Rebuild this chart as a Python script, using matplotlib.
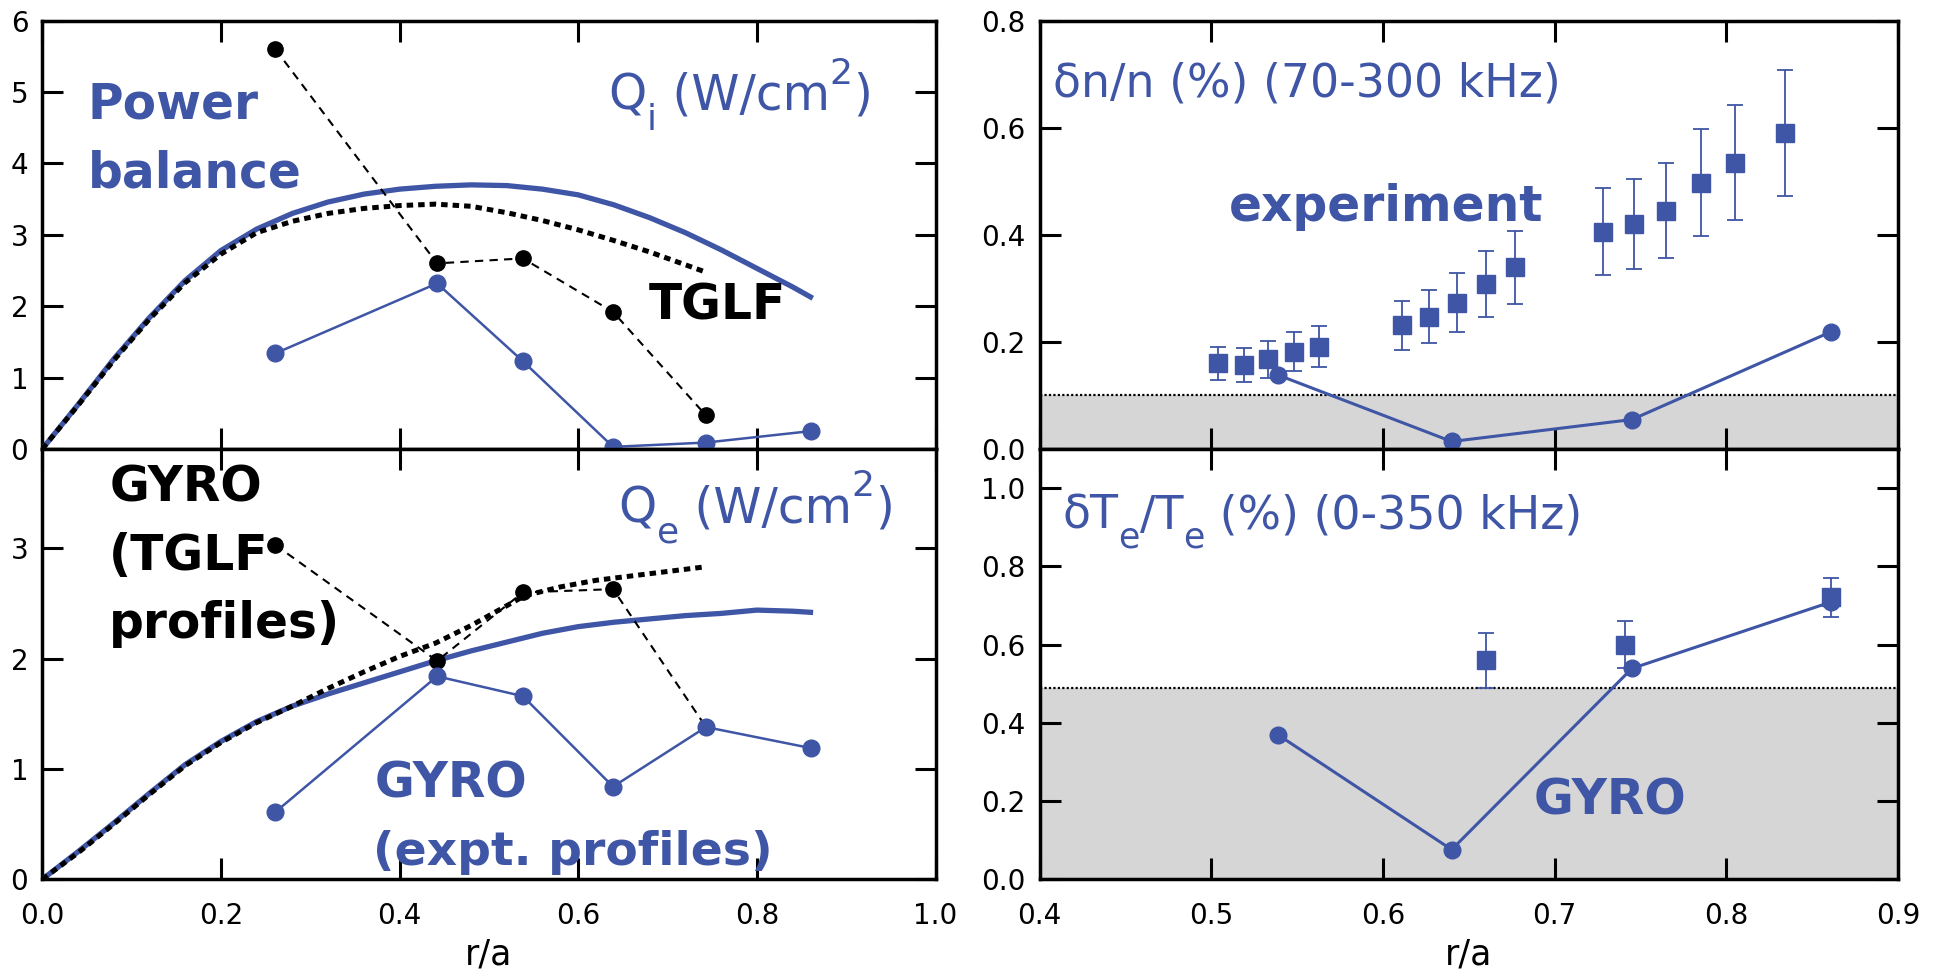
import numpy as np
import matplotlib
matplotlib.use('Agg')
import matplotlib.pyplot as plt

BLUE = '#3f55a5'
GRAY = '#d6d6d6'

# --- ion heat flux Qi (W/cm^2) vs r/a ---
qi_pb_r = [0.0, 0.04, 0.08, 0.12, 0.16, 0.20, 0.24, 0.28, 0.32, 0.36, 0.40, 0.44,
           0.48, 0.52, 0.56, 0.60, 0.64, 0.68, 0.72, 0.76, 0.80, 0.84, 0.86]
qi_pb = [0.0, 0.62, 1.26, 1.84, 2.36, 2.78, 3.08, 3.30, 3.46, 3.57, 3.64, 3.68,
         3.70, 3.69, 3.64, 3.56, 3.42, 3.24, 3.03, 2.79, 2.53, 2.27, 2.13]
qi_tglf_r = [0.0, 0.04, 0.08, 0.12, 0.16, 0.20, 0.24, 0.28, 0.32, 0.36, 0.40, 0.44,
             0.48, 0.52, 0.56, 0.60, 0.64, 0.68, 0.72, 0.74]
qi_tglf = [0.0, 0.61, 1.24, 1.82, 2.33, 2.73, 3.03, 3.19, 3.30, 3.37, 3.41, 3.43,
           3.40, 3.31, 3.20, 3.07, 2.92, 2.76, 2.58, 2.49]
qi_gyro_tglf_r = [0.261, 0.442, 0.538, 0.639, 0.743]
qi_gyro_tglf = [5.60, 2.60, 2.67, 1.92, 0.47]
qi_gyro_expt_r = [0.261, 0.442, 0.538, 0.639, 0.743, 0.86]
qi_gyro_expt = [1.34, 2.32, 1.23, 0.03, 0.09, 0.25]

# --- electron heat flux Qe (W/cm^2) vs r/a ---
qe_pb_r = [0.0, 0.04, 0.08, 0.12, 0.16, 0.20, 0.24, 0.28, 0.32, 0.36, 0.40, 0.44,
           0.48, 0.52, 0.56, 0.60, 0.64, 0.68, 0.72, 0.76, 0.80, 0.84, 0.86]
qe_pb = [0.0, 0.25, 0.51, 0.78, 1.04, 1.25, 1.43, 1.57, 1.68, 1.78, 1.88, 1.98,
         2.07, 2.15, 2.23, 2.29, 2.33, 2.36, 2.39, 2.41, 2.44, 2.43, 2.42]
qe_tglf_r = [0.0, 0.04, 0.08, 0.12, 0.16, 0.20, 0.24, 0.28, 0.32, 0.36, 0.40, 0.44,
             0.48, 0.52, 0.54, 0.58, 0.62, 0.66, 0.70, 0.74]
qe_tglf = [0.0, 0.24, 0.50, 0.77, 1.03, 1.24, 1.42, 1.57, 1.73, 1.88, 2.02, 2.14,
           2.30, 2.48, 2.57, 2.65, 2.71, 2.75, 2.79, 2.83]
qe_gyro_tglf_r = [0.261, 0.442, 0.538, 0.639, 0.743]
qe_gyro_tglf = [3.03, 1.98, 2.60, 2.63, 1.38]
qe_gyro_expt_r = [0.261, 0.442, 0.538, 0.639, 0.743, 0.86]
qe_gyro_expt = [0.61, 1.84, 1.66, 0.84, 1.38, 1.19]

# --- density fluctuations dn/n (%) ---
dn_r = [0.504, 0.519, 0.533, 0.548, 0.563, 0.611, 0.627, 0.643, 0.660, 0.677,
        0.728, 0.746, 0.765, 0.785, 0.805, 0.834]
dn_exp = [0.160, 0.157, 0.168, 0.182, 0.191, 0.232, 0.247, 0.272, 0.308, 0.340,
          0.406, 0.420, 0.445, 0.497, 0.535, 0.591]
dn_lo = [0.128, 0.126, 0.133, 0.145, 0.153, 0.185, 0.198, 0.218, 0.246, 0.271,
         0.325, 0.336, 0.356, 0.397, 0.428, 0.472]
dn_hi = [0.191, 0.189, 0.201, 0.218, 0.230, 0.277, 0.297, 0.328, 0.369, 0.408,
         0.488, 0.504, 0.534, 0.597, 0.642, 0.708]
dn_gyro_r = [0.539, 0.640, 0.745, 0.861]
dn_gyro = [0.138, 0.014, 0.055, 0.219]
dn_threshold = 0.1

# --- electron temperature fluctuations dTe/Te (%) ---
dt_r = [0.660, 0.741, 0.861]
dt_exp = [0.560, 0.599, 0.722]
dt_lo = [0.490, 0.540, 0.670]
dt_hi = [0.630, 0.660, 0.770]
dt_gyro_r = [0.539, 0.640, 0.745, 0.861]
dt_gyro = [0.369, 0.076, 0.539, 0.709]
dt_threshold = 0.49

plt.rcParams['font.family'] = ['DejaVu Sans']

fig = plt.figure(figsize=(19.37, 9.71), dpi=100)
ax_qi = fig.add_axes([0.0218, 0.5376, 0.4612, 0.4411])
ax_qe = fig.add_axes([0.0218, 0.0944, 0.4612, 0.4432])
ax_dn = fig.add_axes([0.5367, 0.5376, 0.4432, 0.4411])
ax_dt = fig.add_axes([0.5367, 0.0944, 0.4432, 0.4432])


def style_axes(ax):
    ax.tick_params(direction='in', length=15, width=2.2, top=True, right=True,
                   labelsize=20, color='black')
    ax.tick_params(axis='x', pad=16)
    ax.tick_params(axis='y', pad=10)
    for s in ax.spines.values():
        s.set_linewidth(2.5)


def flux_panel(ax, pb_r, pb, tg_r, tg, gt_r, gt, ge_r, ge):
    ax.plot(pb_r, pb, color=BLUE, lw=3.8, solid_joinstyle='round', zorder=3)
    ax.plot(tg_r, tg, color='black', lw=3.6, ls=(0, (1.3, 1.0)), zorder=4)
    ax.plot(gt_r, gt, color='black', lw=1.5, ls=(0, (4, 3)), marker='o', ms=11, zorder=5)
    ax.plot(ge_r, ge, color=BLUE, lw=1.8, marker='o', ms=12, zorder=5)
    ax.set_xlim(0, 1.0)
    ax.set_xticks(np.arange(0, 1.01, 0.2))
    style_axes(ax)


def fluct_panel(ax, r, val, lo, hi, g_r, g, thr, ymax):
    ax.axhspan(0, thr, color=GRAY, lw=0, zorder=0)
    ax.axhline(thr, color='black', lw=1.6, ls=(0, (1, 1)), zorder=1)
    yerr = [np.array(val) - np.array(lo), np.array(hi) - np.array(val)]
    ax.errorbar(r, val, yerr=yerr, fmt='s', color=BLUE, ms=13, elinewidth=1.3,
                capsize=6, capthick=1.3, zorder=4)
    ax.plot(g_r, g, color=BLUE, lw=2.2, marker='o', ms=12, zorder=5)
    ax.set_xlim(0.4, 0.9)
    ax.set_ylim(0, ymax)
    ax.set_xticks(np.arange(0.4, 0.91, 0.1))
    style_axes(ax)


def run_text(ax, x, y, parts, color=BLUE):
    """Draw text pieces one after another; each piece is (text, size, shift in pt)."""
    prev = ax.text(x, y, parts[0][0], fontsize=parts[0][1], color=color,
                   va='baseline', zorder=6)
    for s, size, dy in parts[1:]:
        prev = ax.annotate(s, xy=(1, 0), xycoords=prev, xytext=(0, dy),
                           textcoords='offset points', fontsize=size, color=color,
                           va='bottom', ha='left', zorder=6)


flux_panel(ax_qi, qi_pb_r, qi_pb, qi_tglf_r, qi_tglf,
           qi_gyro_tglf_r, qi_gyro_tglf, qi_gyro_expt_r, qi_gyro_expt)
ax_qi.set_ylim(0, 6)
ax_qi.set_yticks(range(0, 7))
ax_qi.tick_params(labelbottom=False)

flux_panel(ax_qe, qe_pb_r, qe_pb, qe_tglf_r, qe_tglf,
           qe_gyro_tglf_r, qe_gyro_tglf, qe_gyro_expt_r, qe_gyro_expt)
ax_qe.set_ylim(0, 3.9)
ax_qe.set_yticks(range(0, 4))
ax_qe.xaxis.set_major_formatter(plt.FormatStrFormatter('%.1f'))
ax_qe.set_xlabel('r/a', fontsize=25, labelpad=5.5)

fluct_panel(ax_dn, dn_r, dn_exp, dn_lo, dn_hi, dn_gyro_r, dn_gyro, dn_threshold, 0.8)
ax_dn.set_yticks(np.arange(0, 0.81, 0.2))
ax_dn.yaxis.set_major_formatter(plt.FormatStrFormatter('%.1f'))
ax_dn.tick_params(labelbottom=False)

fluct_panel(ax_dt, dt_r, dt_exp, dt_lo, dt_hi, dt_gyro_r, dt_gyro, dt_threshold, 1.1)
ax_dt.set_yticks(np.arange(0, 1.01, 0.2))
ax_dt.yaxis.set_major_formatter(plt.FormatStrFormatter('%.1f'))
ax_dt.xaxis.set_major_formatter(plt.FormatStrFormatter('%.1f'))
ax_dt.set_xlabel('r/a', fontsize=25, labelpad=5.5)

# annotations
bold = dict(fontsize=35, fontweight='bold', va='baseline', zorder=6)
ax_qi.text(0.051, 4.63, 'Power', color=BLUE, **bold)
ax_qi.text(0.051, 3.67, 'balance', color=BLUE, **bold)
ax_qi.text(0.679, 1.82, 'TGLF', color='black', **bold)
run_text(ax_qi, 0.634, 4.75, [('Q', 35, 0), ('i', 26, -12), (' (W/cm', 35, 12),
                              ('2', 26, 21), (')', 35, -21)])

ax_qe.text(0.075, 3.42, 'GYRO', color='black', **bold)
ax_qe.text(0.075, 2.80, '(TGLF', color='black', **bold)
ax_qe.text(0.075, 2.19, 'profiles)', color='black', **bold)
ax_qe.text(0.372, 0.74, 'GYRO', color=BLUE, **bold)
ax_qe.text(0.370, 0.13, '(expt. profiles)', color=BLUE, fontsize=34,
           fontweight='bold', va='baseline', zorder=6)
run_text(ax_qe, 0.645, 3.235, [('Q', 35, 0), ('e', 26, -12), (' (W/cm', 35, 12),
                               ('2', 26, 21), (')', 35, -21)])

run_text(ax_dn, 0.408, 0.659, [('δn/n (%) (70-300 kHz)', 33, 0)])
ax_dn.text(0.51, 0.425, 'experiment', color=BLUE, **bold)

run_text(ax_dt, 0.4134, 0.896, [('δT', 33, 0), ('e', 25, -11), ('/T', 33, 11),
                                ('e', 25, -11), (' (%) (0-350 kHz)', 33, 11)])
ax_dt.text(0.6876, 0.165, 'GYRO', color=BLUE, **bold)

fig.savefig('out.png', dpi=100)
